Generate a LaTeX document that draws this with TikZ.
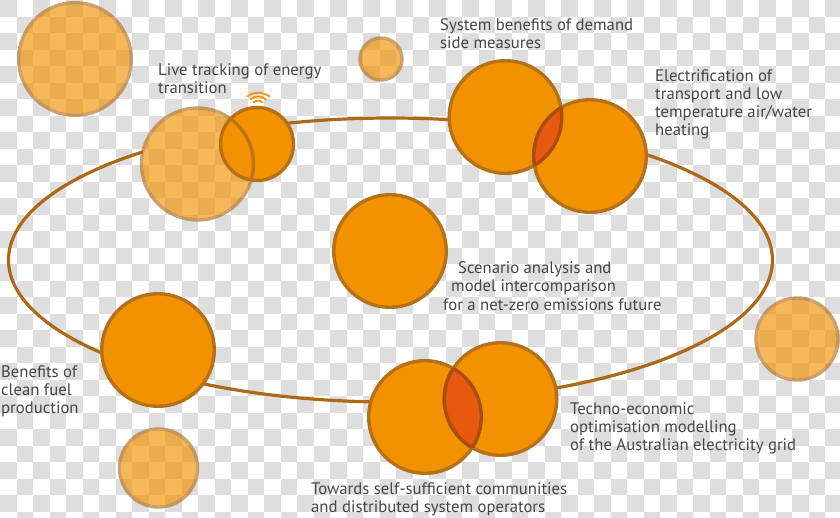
\documentclass[tikz,border=0pt]{standalone}
\usepackage{fontspec}
\setmainfont{PT Sans}
\definecolor{org}{HTML}{F39200}
\definecolor{edge}{HTML}{B5701A}
\definecolor{lens}{HTML}{E8590F}
\definecolor{lensedge}{HTML}{A84E12}
\definecolor{chk}{HTML}{DEDEDE}
\definecolor{txt}{HTML}{454547}
\tikzset{
 x=1pt,y=-1pt,
 solidc/.style={circle,draw=edge,fill=org,line width=3.4pt,inner sep=0pt,outer sep=0pt,minimum size=#1},
 label/.style={anchor=west,inner sep=0pt,text=txt,align=left,font=\fontsize{16.7}{17.8}\selectfont},
 ring/.style={draw=edge!95!black,line width=3.2pt},
 wifi/.style={draw=org,line width=1.7pt,line cap=round}
}
\newcommand{\ghostdisc}[3]{%
 \fill[org,opacity=.65] (#1,#2) circle ({#3-1.7});
 \draw[edge,opacity=.65,line width=3.4pt] (#1,#2) circle (#3);}
\begin{document}
\begin{tikzpicture}
\useasboundingbox (0,0) rectangle (840,517);
\fill[white] (0,0) rectangle (840,517);
\foreach \i in {0,...,50}{\foreach \j in {0,...,31}{%
 \pgfmathtruncatemacro{\chkpar}{mod(\i+\j,2)}%
 \ifnum\chkpar=0 \fill[chk] ({\i*16.5},{\j*16.5}) rectangle ({\i*16.5+16.5},{\j*16.5+16.5});\fi}}
% ring, hidden behind the pale disc
\begin{scope}[even odd rule]
 \clip (0,0) rectangle (840,517) (197.5,164) circle (56);
 \draw[ring] (390.5,260) ellipse [x radius=382,y radius=142];
\end{scope}
% pale discs
\ghostdisc{75}{59}{56.3}
\ghostdisc{197.5}{164}{56}
\ghostdisc{381}{59}{21}
\ghostdisc{797}{339}{41}
\ghostdisc{158.5}{468}{39}
% solid discs
\node[solidc=73pt] (live) at (257,144) {};
\node[solidc=112.6pt] (ctr) at (390,251) {};
\node[solidc=112.6pt] (lft) at (158,350) {};
\node[solidc=112.6pt] (tl) at (505.5,117) {};
\node[solidc=112.6pt] (tr) at (590,156) {};
\node[solidc=112.6pt] (bl) at (425,417) {};
\node[solidc=112.6pt] (br) at (500.5,399) {};
% overlaps
\begin{scope}\clip (tl.center) circle (56.3); \fill[lens] (tr.center) circle (56.3); \draw[lensedge,line width=3.4pt] (tr.center) circle (56.3);\end{scope}
\begin{scope}\clip (tr.center) circle (56.3); \draw[lensedge,line width=3.4pt] (tl.center) circle (56.3);\end{scope}
\begin{scope}\clip (bl.center) circle (56.3); \fill[lens] (br.center) circle (56.3); \draw[lensedge,line width=3.4pt] (br.center) circle (56.3);\end{scope}
\begin{scope}\clip (br.center) circle (56.3); \draw[lensedge,line width=3.4pt] (bl.center) circle (56.3);\end{scope}
\begin{scope}\clip (live.center) circle (36.5); \draw[edge!90!org,line width=3.4pt] (197.5,164) circle (56);\end{scope}
% signal icon
\draw[wifi] (247.5,96.5) .. controls (253,91.5) and (263,91.5) .. (269.5,96.5);
\draw[wifi] (250.5,99.5) .. controls (254,95.5) and (262,95.5) .. (266,99.5);
\draw[wifi] (253.5,102.5) .. controls (256,100) and (260,100) .. (262.5,102.5);
% labels
\node[label] (t1) at (440,33.5) {System benefits of demand\\side measures};
\node[label] (t2) at (158,78.5) {Live tracking of energy\\transition};
\node[label] (t3) at (655,104.5) {Electrification of\\transport and low\\temperature air/water\\heating};
\node[label] (t4a) at (458,269.5) {Scenario analysis and};
\node[label] (t4b) at (451,287) {model intercomparison};
\node[label] (t4c) at (443,304.5) {for a net-zero emissions future};
\node[label] (t5) at (1,391.5) {Benefits of\\clean fuel\\production};
\node[label] (t6) at (570,428.5) {Techno-economic\\optimisation modelling\\of the Australian electricity grid};
\node[label] (t7) at (311,499.5) {Towards self-sufficient communities\\and distributed system operators};
\end{tikzpicture}
\end{document}
